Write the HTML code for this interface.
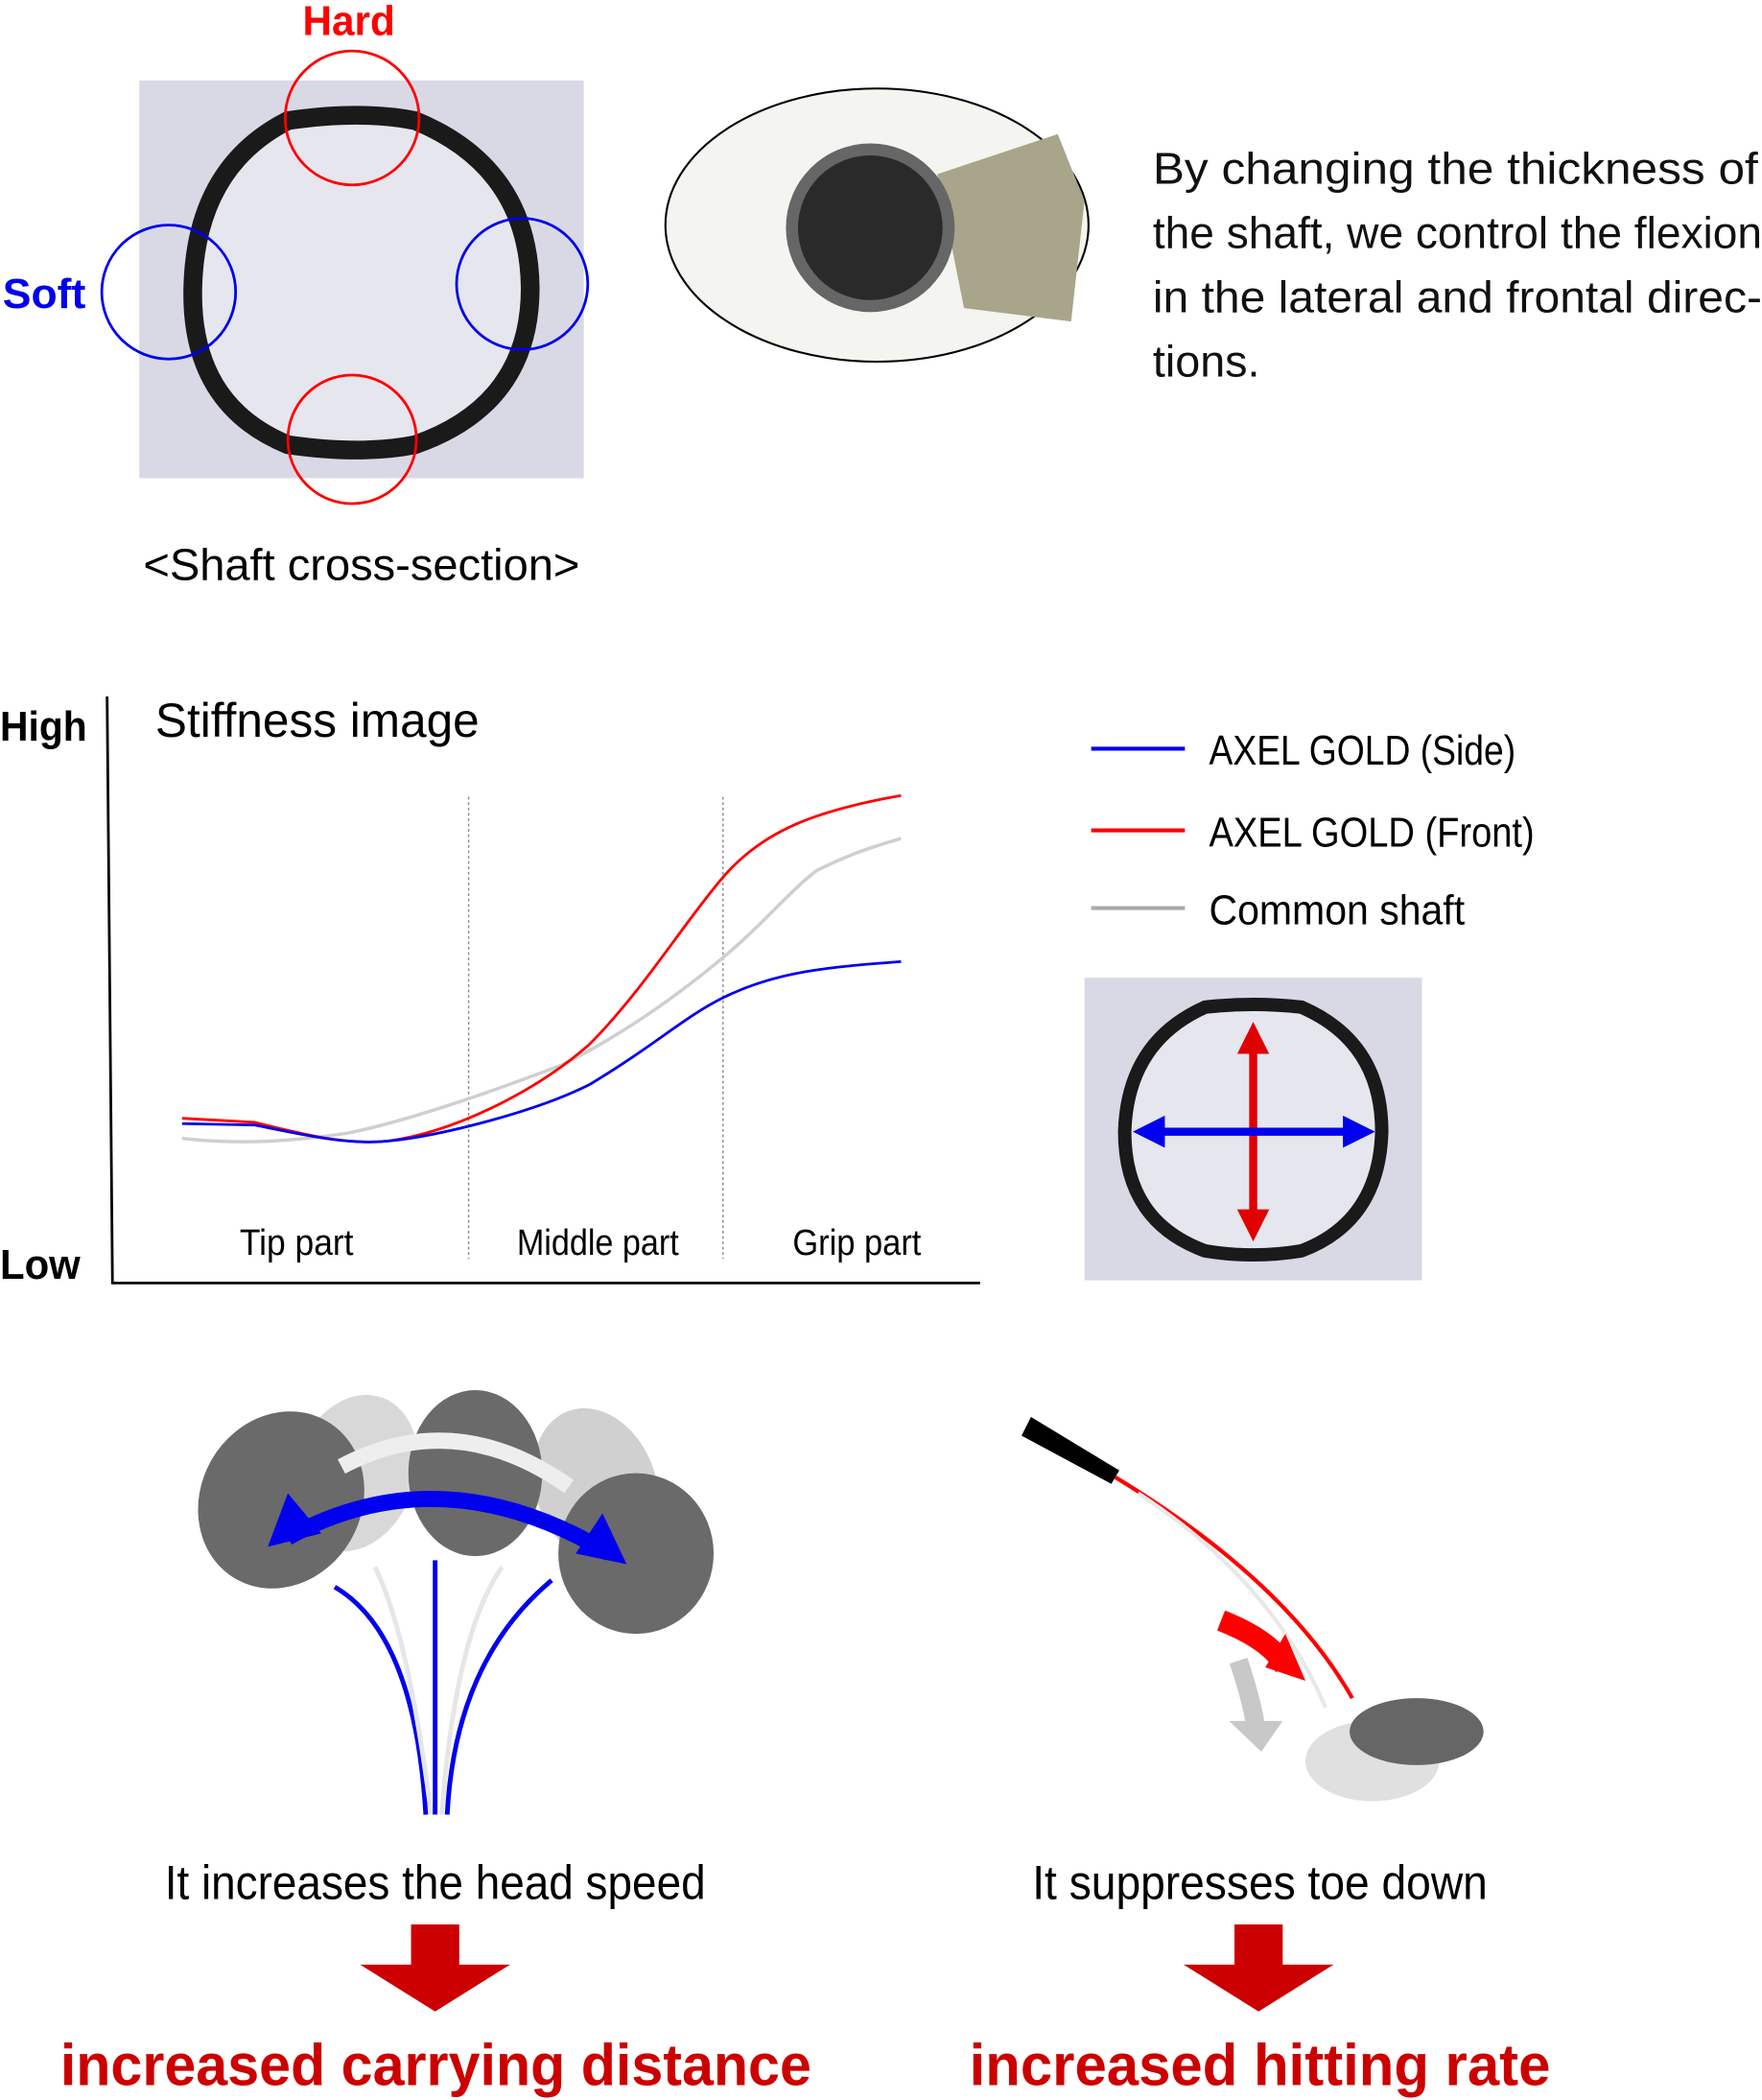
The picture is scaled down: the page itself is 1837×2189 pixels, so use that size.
<!DOCTYPE html>
<html><head><meta charset="utf-8"><style>
html,body{margin:0;padding:0;background:#fff}
svg{display:block}
text{font-family:"Liberation Sans",sans-serif}
</style></head><body>
<svg width="1837" height="2189" viewBox="0 0 1316 1568" xmlns="http://www.w3.org/2000/svg">
<defs>
<marker id="ar" viewBox="0 0 10 10" refX="5" refY="5" markerWidth="4" markerHeight="4" orient="auto-start-reverse"><path d="M0,0L10,5L0,10z" fill="#e00000"/></marker>
<marker id="ab" viewBox="0 0 10 10" refX="5" refY="5" markerWidth="4" markerHeight="4" orient="auto-start-reverse"><path d="M0,0L10,5L0,10z" fill="#0000ee"/></marker>
</defs>
<rect x="104" y="60" width="332" height="297" fill="#d9d9e6"/>
<path d="M215,90 Q270,82 310,90 Q395,125 396,215 Q396,302 310,332 Q270,340 215,332 Q142,302 144,215 Q146,125 215,90Z" fill="#e6e6ee" stroke="#1a1a1a" stroke-width="14"/>
<text x="226" y="26" font-size="31" font-weight="bold" fill="#ff0000" textLength="69" lengthAdjust="spacingAndGlyphs">Hard</text>
<text x="2" y="230" font-size="31" font-weight="bold" fill="#0000ee" textLength="62" lengthAdjust="spacingAndGlyphs">Soft</text>
<circle cx="263" cy="88" r="50" fill="none" stroke="#ff0000" stroke-width="2"/>
<circle cx="263" cy="328" r="48" fill="none" stroke="#ff0000" stroke-width="2"/>
<circle cx="126" cy="218" r="50" fill="none" stroke="#0000ee" stroke-width="2"/>
<circle cx="390" cy="212" r="49" fill="none" stroke="#0000ee" stroke-width="2"/>
<text x="107" y="433" font-size="33" textLength="326" lengthAdjust="spacingAndGlyphs">&lt;Shaft cross-section&gt;</text>
<ellipse cx="655" cy="168" rx="158" ry="102" fill="#f4f4f0" stroke="#000" stroke-width="1.5"/>
<path d="M700,130 L790,100 L810,150 L800,240 L720,230Z" fill="#a9a58a"/>
<circle cx="650" cy="170" r="63" fill="#666"/>
<circle cx="650" cy="170" r="54" fill="#2a2a2a"/>
<g font-size="33" fill="#111">
<text x="861" y="137" textLength="452" lengthAdjust="spacingAndGlyphs">By changing the thickness of</text>
<text x="861" y="185" textLength="455" lengthAdjust="spacingAndGlyphs">the shaft, we control the flexion</text>
<text x="861" y="233" textLength="455" lengthAdjust="spacingAndGlyphs">in the lateral and frontal direc-</text>
<text x="861" y="281" textLength="80" lengthAdjust="spacingAndGlyphs">tions.</text>
</g>
<path d="M80,520 L84,958 L732,958" fill="none" stroke="#000" stroke-width="2"/>
<text x="0" y="553" font-size="31" font-weight="bold" textLength="65" lengthAdjust="spacingAndGlyphs">High</text>
<text x="0" y="955" font-size="31" font-weight="bold" textLength="60" lengthAdjust="spacingAndGlyphs">Low</text>
<text x="116" y="550" font-size="36" textLength="242" lengthAdjust="spacingAndGlyphs">Stiffness image</text>
<line x1="350" y1="595" x2="350" y2="940" stroke="#888" stroke-width="1" stroke-dasharray="2,2"/>
<line x1="540" y1="595" x2="540" y2="940" stroke="#888" stroke-width="1" stroke-dasharray="2,2"/>
<g font-size="27">
<text x="179" y="937" textLength="85" lengthAdjust="spacingAndGlyphs">Tip part</text>
<text x="386" y="937" textLength="121" lengthAdjust="spacingAndGlyphs">Middle part</text>
<text x="592" y="937" textLength="96" lengthAdjust="spacingAndGlyphs">Grip part</text></g>
<path d="M136,850 C180,855 220,852 260,846 C300,838 360,818 420,795 C470,770 510,740 540,715 C570,690 590,665 610,650 C640,635 660,630 673,626" fill="none" stroke="#cfcfcf" stroke-width="2.5"/>
<path d="M136,835 L190,838 C230,848 260,855 290,852 C340,845 400,815 440,780 C480,740 510,690 540,655 C570,620 610,605 673,594" fill="none" stroke="#ff0000" stroke-width="2"/>
<path d="M136,839 L190,840 C230,848 260,855 290,852 C330,848 400,830 440,810 C490,780 510,760 540,745 C580,725 620,722 673,718" fill="none" stroke="#0000ee" stroke-width="2"/>
<line x1="815" y1="559" x2="885" y2="559" stroke="#0000ee" stroke-width="3"/>
<line x1="815" y1="620" x2="885" y2="620" stroke="#ff0000" stroke-width="3"/>
<line x1="815" y1="678" x2="885" y2="678" stroke="#aaa" stroke-width="3"/>
<g font-size="31">
<text x="903" y="571" textLength="229" lengthAdjust="spacingAndGlyphs">AXEL GOLD (Side)</text>
<text x="903" y="632" textLength="243" lengthAdjust="spacingAndGlyphs">AXEL GOLD (Front)</text>
<text x="903" y="690" textLength="191" lengthAdjust="spacingAndGlyphs">Common shaft</text></g>
<rect x="810" y="730" width="252" height="226" fill="#d9d9e6"/>
<path d="M900,752 Q936,748 972,752 Q1032,778 1032,845 Q1030,912 972,934 Q936,940 900,934 Q840,912 840,845 Q842,778 900,752Z" fill="#e6e6ee" stroke="#1a1a1a" stroke-width="10"/>
<line x1="936" y1="775" x2="936" y2="915" stroke="#e00000" stroke-width="6" marker-start="url(#ar)" marker-end="url(#ar)"/>
<line x1="858" y1="845" x2="1015" y2="845" stroke="#0000ee" stroke-width="6" marker-start="url(#ab)" marker-end="url(#ab)"/>
<g>
<ellipse cx="265" cy="1100" rx="45" ry="60" fill="#d8d8d8" transform="rotate(20 265 1100)"/>
<ellipse cx="445" cy="1110" rx="45" ry="60" fill="#d0d0d0" transform="rotate(-20 445 1110)"/>
<ellipse cx="210" cy="1120" rx="60" ry="68" fill="#6a6a6a" transform="rotate(30 210 1120)"/>
<ellipse cx="475" cy="1160" rx="58" ry="60" fill="#6a6a6a"/>
<ellipse cx="355" cy="1100" rx="50" ry="62" fill="#6a6a6a"/>
<path d="M250,1185 Q310,1220 318,1355" fill="none" stroke="#0000ee" stroke-width="3.5"/>
<path d="M280,1170 Q305,1220 322,1355" fill="none" stroke="#e6e6e6" stroke-width="3.5"/>
<path d="M375,1170 Q340,1220 330,1355" fill="none" stroke="#e6e6e6" stroke-width="3.5"/>
<line x1="325" y1="1165" x2="325" y2="1355" stroke="#0000ee" stroke-width="3.5"/>
<path d="M412,1180 Q340,1240 334,1355" fill="none" stroke="#0000ee" stroke-width="3.5"/>
<path d="M255,1095 Q340,1050 425,1110" fill="none" stroke="#eeeeee" stroke-width="12"/>
<path d="M215,1148 Q330,1085 455,1160" fill="none" stroke="#0000ee" stroke-width="12"/>
<polygon points="200,1155 215,1115 240,1145" fill="#0000ee"/>
<polygon points="468,1168 430,1160 450,1130" fill="#0000ee"/>
</g>
<polygon points="763,1072 770,1058 836,1098 830,1108" fill="#000"/>
<path d="M833,1103 Q960,1180 1010,1268" fill="none" stroke="#ff0000" stroke-width="3"/>
<path d="M850,1115 Q950,1180 990,1275" fill="none" stroke="#e8e8e8" stroke-width="3"/>
<ellipse cx="1025" cy="1315" rx="50" ry="30" fill="#e0e0e0"/>
<ellipse cx="1058" cy="1293" rx="50" ry="25" fill="#666"/>
<path d="M912,1210 Q950,1225 960,1245" fill="none" stroke="#ff0000" stroke-width="16"/>
<polygon points="945,1245 975,1255 960,1220" fill="#ff0000"/>
<path d="M925,1240 Q935,1270 938,1290" fill="none" stroke="#c8c8c8" stroke-width="14"/>
<polygon points="918,1285 958,1285 942,1308" fill="#c8c8c8"/>
<g font-size="36">
<text x="123" y="1418" textLength="404" lengthAdjust="spacingAndGlyphs">It increases the head speed</text>
<text x="771" y="1418" textLength="340" lengthAdjust="spacingAndGlyphs">It suppresses toe down</text></g>
<polygon points="307,1437 343,1437 343,1467 381,1467 325,1502 269,1467 307,1467" fill="#cc0000"/>
<polygon points="922,1437 958,1437 958,1467 996,1467 940,1502 884,1467 922,1467" fill="#cc0000"/>
<g font-size="44" font-weight="bold" fill="#cc0000">
<text x="45" y="1557" textLength="561" lengthAdjust="spacingAndGlyphs">increased carrying distance</text>
<text x="724" y="1557" textLength="434" lengthAdjust="spacingAndGlyphs">increased hitting rate</text></g>
</svg>
</body></html>
